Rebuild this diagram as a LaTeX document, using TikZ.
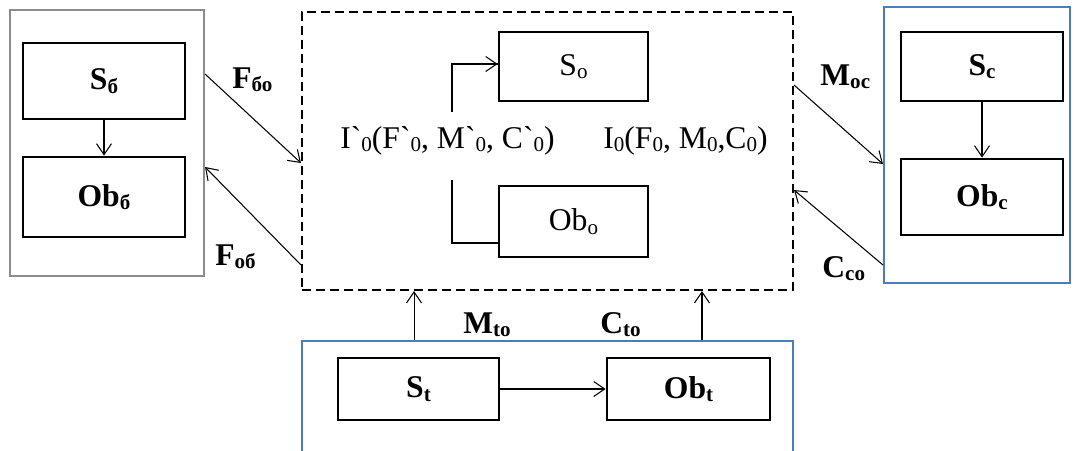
\documentclass[tikz,border=0pt]{standalone}
\usepackage{fontspec}
\setmainfont{Liberation Serif}
\newfontfamily\nolig{Liberation Serif}[Ligatures=TeXOff]
\usetikzlibrary{arrows.meta,calc}
\definecolor{framegray}{HTML}{8C8C8C}
\definecolor{frameblue}{HTML}{4A7EBB}
\newcommand\sbx[1]{\raisebox{-0.25ex}{\fontsize{12}{12}\selectfont #1}}
\newcommand\bq{{\nolig\char"0060\relax}}
\tikzset{
  inbox/.style={draw=black, line width=1.6pt, rectangle, inner sep=0pt, font=\fontsize{18}{20}\selectfont\bfseries},
  cbox/.style={draw=black, line width=1.6pt, rectangle, inner sep=0pt, font=\fontsize{18}{20}\selectfont},
  grayframe/.style={draw=framegray, line width=1.2pt, rectangle, inner sep=0pt},
  blueframe/.style={draw=frameblue, line width=1.2pt, rectangle, inner sep=0pt},
  dashframe/.style={draw=black, line width=1.2pt, dash pattern=on 0.18cm off 0.1cm, rectangle, inner sep=0pt},
  arr/.style={draw=black, line width=0.6pt, -{Straight Barb[length=0.22cm,width=0.3cm]}},
  plain/.style={draw=black, line width=0.9pt},
  lbl/.style={font=\fontsize{18}{20}\selectfont\bfseries, inner sep=0pt, anchor=base west},
  ctxt/.style={font=\fontsize{18}{20}\selectfont, inner sep=0pt, anchor=base west},
}
\begin{document}
\begin{tikzpicture}[x=0.02cm,y=-0.02cm]
\path[use as bounding box, clip] (0,0) rectangle (1075,450);
% left gray frame
\node[grayframe, minimum width=3.88cm, minimum height=5.32cm] (L) at (107,143) {};
\node[inbox, minimum width=3.24cm, minimum height=1.52cm] (Sb) at (104,81) {S\sbx{б}};
\node[inbox, minimum width=3.24cm, minimum height=1.6cm] (Obb) at (104,197) {Ob\sbx{б}};
% central dashed frame
\node[dashframe, minimum width=9.82cm, minimum height=5.56cm] (D) at (547.5,151) {};
\node[cbox, minimum width=2.98cm, minimum height=1.38cm] (So) at (573.5,66.5) {S\sbx{o}};
\node[cbox, minimum width=2.98cm, minimum height=1.42cm] (Obo) at (573.5,221.5) {Ob\sbx{o}};
\node[ctxt] (Ip) at (340,148) {I\bq\sbx{0}(F\bq\sbx{0}, M\bq\sbx{0}, C\bq\sbx{0})};
\node[ctxt] (Iz) at (603,148) {I\sbx{0}(F\sbx{0}, M\sbx{0},C\sbx{0})};
\coordinate (br1) at (452,112);
\coordinate (br2) at (452,180);
% right blue frame
\node[blueframe, minimum width=3.72cm, minimum height=5.52cm] (R) at (977,145) {};
\node[inbox, minimum width=3.24cm, minimum height=1.38cm] (Sc) at (982,66.5) {S\sbx{c}};
\node[inbox, minimum width=3.24cm, minimum height=1.52cm] (Obc) at (982,197) {Ob\sbx{c}};
% bottom blue frame
\node[blueframe, minimum width=9.82cm, minimum height=2.56cm] (B) at (547.5,405) {};
\node[inbox, minimum width=3.22cm, minimum height=1.24cm] (St) at (418.5,389) {S\sbx{t}};
\node[inbox, minimum width=3.26cm, minimum height=1.24cm] (Obt) at (688.5,389) {Ob\sbx{t}};
% labels
\node[lbl] (lFbo) at (232,88) {F\sbx{бо}};
\node[lbl] (lFob) at (215,265) {F\sbx{об}};
\node[lbl] (lMoc) at (820,85) {M\sbx{oc}};
\node[lbl] (lCco) at (822,277) {C\sbx{co}};
\node[lbl] (lMto) at (463,333) {M\sbx{to}};
\node[lbl] (lCto) at (600,333) {C\sbx{to}};
% connectors
\draw[arr] (Sb.south) -- (Obb.north);
\draw[arr] (Sc.south) -- (Obc.north);
\draw[arr] (St.east) -- (Obt.west);
\draw[arr] ([yshift=1.38cm]L.east) -- ([yshift=-0.24cm]D.west);
\draw[arr] ([yshift=-2.28cm]D.west) -- ([yshift=-0.48cm]L.east);
\draw[arr] ([yshift=1.32cm]D.east) -- ([yshift=-0.38cm]R.west);
\draw[arr] ([yshift=-2.4cm]R.west) -- ([yshift=-0.78cm]D.east);
\draw[arr] ([xshift=-2.67cm]B.north) -- ([xshift=-2.67cm]D.south);
\draw[arr] ([xshift=3.09cm]B.north) -- ([xshift=3.09cm]D.south);
\draw[plain] (br1) |- ([yshift=0.05cm]So.west);
\draw[arr] ([yshift=0.05cm]So.west) ++(-0.5cm,0) -- ([yshift=0.05cm]So.west);
\draw[plain] (br2) |- ([yshift=-0.43cm]Obo.west);
\end{tikzpicture}
\end{document}
